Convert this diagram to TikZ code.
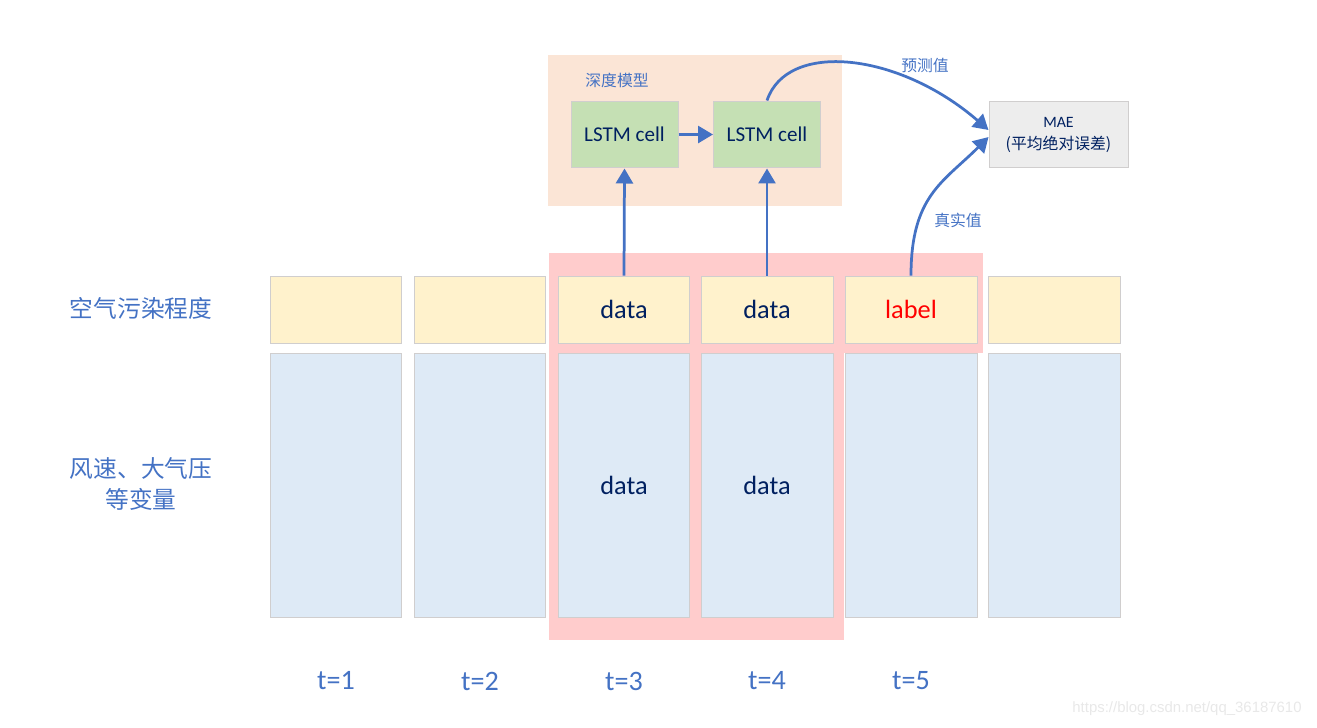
\documentclass[tikz,border=0pt]{standalone}
\usepackage{fontspec}
\setmainfont{Carlito}
\newfontfamily\cjk{Noto Sans CJK SC}
\newfontfamily\webfont{Liberation Sans}
\usetikzlibrary{arrows.meta}

\definecolor{accentblue}{HTML}{4472C4}
\definecolor{navytext}{HTML}{002060}
\definecolor{cellyellow}{HTML}{FFF2CC}
\definecolor{cellblue}{HTML}{DEEAF6}
\definecolor{cellgreen}{HTML}{C5E0B4}
\definecolor{modelpeach}{HTML}{FBE5D6}
\definecolor{windowpink}{HTML}{FFCCCC}
\definecolor{maegray}{HTML}{EDEDED}
\definecolor{edgegray}{HTML}{D0CECE}

\tikzset{
  cell/.style={draw=edgegray, line width=0.02cm, inner sep=0pt,
    minimum width=2.64cm},
  obscell/.style={cell, fill=cellyellow, minimum height=1.34cm},
  varcell/.style={cell, fill=cellblue, minimum height=5.3cm},
  lstmcell/.style={draw=edgegray, line width=0.02cm, fill=cellgreen, inner sep=0pt,
    minimum width=2.14cm, minimum height=1.34cm, text=navytext,
    font=\fontsize{12}{14}\selectfont},
  datatext/.style={text=navytext, font=\fontsize{15}{18}\selectfont},
  steptext/.style={text=accentblue, font=\fontsize{16}{19}\selectfont},
  rowtext/.style={text=accentblue, align=center, font=\cjk\fontsize{13.5}{18}\selectfont},
  smalltext/.style={text=accentblue, font=\cjk\fontsize{9}{11}\selectfont},
  flow/.style={accentblue, line width=0.055cm, -{Triangle[length=0.3cm,width=0.34cm]}}
}

\begin{document}
\begin{tikzpicture}[x=0.02cm, y=-0.02cm]
\useasboundingbox (0,0) rectangle (1317,727);

% Sliding window (t=3..5)
\fill[windowpink] (549,253) rectangle (983,353);
\fill[windowpink] (549,253) rectangle (844,640);

% Model box
\fill[modelpeach] (548,55) rectangle (842,206);
\node[smalltext] (modelname) at (617,80) {深度模型};

% Cells per time step
\foreach \i/\x in {1/336,2/480,3/624,4/767,5/911,6/1054} {
  \node[obscell] (top\i) at (\x,309.5) {};
  \node[varcell] (var\i) at (\x,485.5) {};
}
\foreach \i in {1,...,5}
  \node[steptext] (t\i) at (var\i.center |- 0,681) {t=\i};
\node[datatext] at (top3) {data};
\node[datatext] at (top4) {data};
\node[datatext, text=red] at (top5) {label};
\node[datatext] at (var3) {data};
\node[datatext] at (var4) {data};

% Row labels
\node[rowtext] (pollution) at (141,308) {空气污染程度};
\node[rowtext] (weather) at (141,484) {风速、大气压\\等变量};

% LSTM cells and MAE
\node[lstmcell] (lstm1) at (624.5,134.5) {LSTM cell};
\node[lstmcell] (lstm2) at (767,134.5) {LSTM cell};
\node[draw=edgegray, line width=0.02cm, fill=maegray, inner sep=0pt,
  minimum width=2.78cm, minimum height=1.34cm, text=navytext, align=center,
  font=\fontsize{9}{12.5}\selectfont] (mae) at (1058.5,134.5) {MAE\\{\cjk(平均绝对误差)}};

% Arrows
\draw[flow] (top3.north) -- (lstm1.south);
\draw[flow] (top4.north) -- (lstm2.south);
\draw[flow] (lstm1.east) -- (lstm2.west);
\draw[flow] (lstm2.north) .. controls +(20,-60) and +(-90,-78) .. ([yshift=0.09cm]mae.west);
\draw[flow] (top5.north) .. controls +(0,-80) and +(-45,45) .. ([yshift=-0.05cm]mae.west);
\node[smalltext] (predicted) at (925,65) {预测值};
\node[smalltext] (truth) at (958,220) {真实值};

% Watermark
\node[text=black!9, font=\webfont\fontsize{8.5}{10}\selectfont] (mark) at (1187,709) {https://blog.csdn.net/qq\_36187610};
\end{tikzpicture}
\end{document}
